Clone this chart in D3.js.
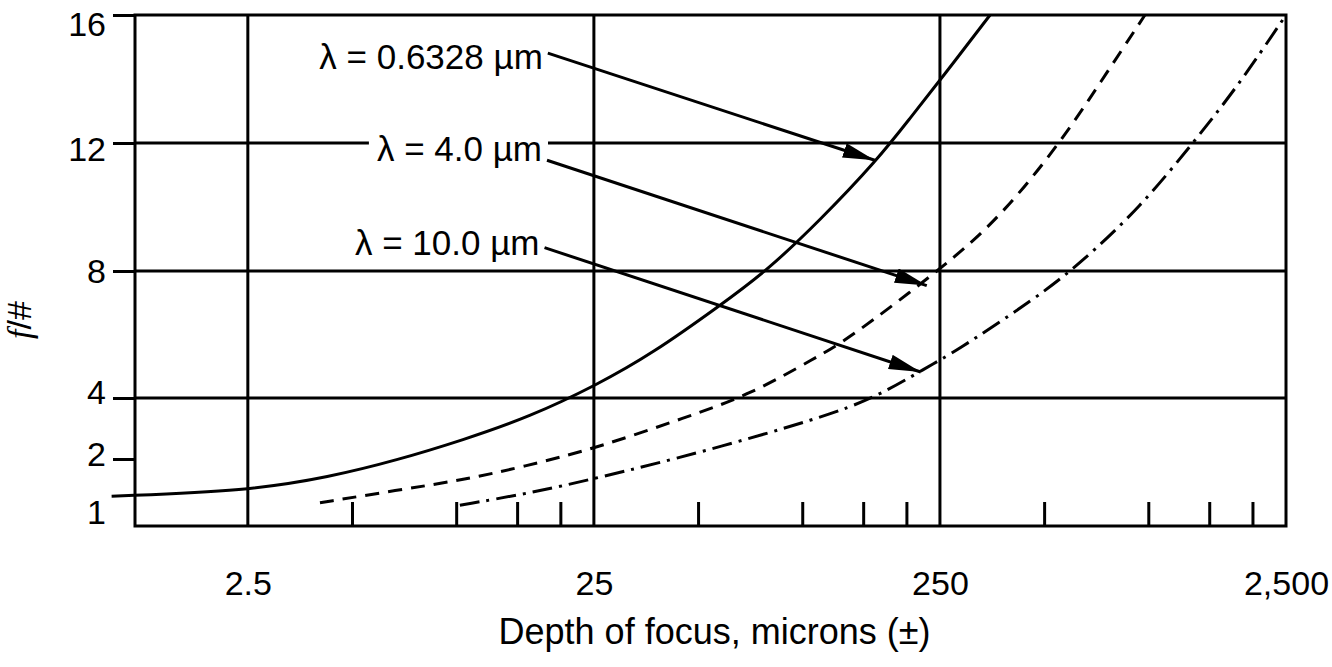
<!DOCTYPE html>
<html>
<head>
<meta charset="utf-8">
<script src="https://cdn.jsdelivr.net/npm/d3@7"></script>
<style>
  body { margin: 0; background: #fff; }
  text { font-family: "Liberation Sans", Arial, sans-serif; fill: #000; }
</style>
</head>
<body>
<div id="my_dataviz"></div>
<script>
// values (x = depth of focus in microns, y = f/#)
const solidX = [1.01, 2.5, 4.31, 6.74, 10.45, 16.3, 25.5, 37.0, 57.8, 79.1, 112.5, 164.5, 204.8, 253, 349];
const solidY = [1.38, 1.47, 1.70, 1.98, 2.62, 3.38, 4.41, 5.41, 6.91, 8.01, 9.58, 11.46, 12.77, 14.03, 16];

const dashedX = [4.04, 6.74, 10.45, 15.6, 25.5, 46.4, 70.6, 110, 134.6, 255, 373, 556, 725, 978];
const dashedY = [1.27, 1.48, 1.65, 1.87, 2.36, 3.38, 4.10, 5.29, 5.82, 8.11, 9.67, 12.0, 13.87, 16];

const dashDotX = [10.25, 16.3, 25.5, 51.6, 112.5, 164.5, 229, 272.6, 477, 635, 946, 1346, 1805, 2500];
const dashDotY = [1.23, 1.43, 1.68, 2.23, 3.34, 4.03, 4.97, 5.41, 7.17, 8.23, 9.98, 12.0, 13.74, 16];

const xMajor = [2.5, 25, 250, 2500];
const xMajorLabels = ["2.5", "25", "250", "2,500"];
const xMinor = [5, 10, 15, 20, 50, 100, 150, 200, 500, 1000, 1500, 2000];
const yTicks = [1, 2, 4, 8, 12, 16];
const yGrid = [4, 8, 12];

const labels = ["\u03bb = 0.6328 \u00b5m", "\u03bb = 4.0 \u00b5m", "\u03bb = 10.0 \u00b5m"];
const labelY = [14.68, 11.83, 8.89];
const arrowFromX = [18.4, 18.3, 18.0];
const arrowFromY = [14.81, 11.46, 8.73];
const arrowToX = [162, 229, 220];
const arrowToY = [11.46, 7.54, 4.82];

// set the dimensions and margins of the graph
var margin = {top: 15, right: 46, bottom: 141, left: 135},
  width = 1332 - margin.left - margin.right,
  height = 667 - margin.top - margin.bottom;

var svg = d3.select("#my_dataviz")
.append("svg")
  .attr("width", width + margin.left + margin.right)
  .attr("height", height + margin.top + margin.bottom)
.append("g")
  .attr("transform", "translate(" + margin.left + "," + margin.top + ")");

var x = d3.scaleLog()
  .domain([1.18, 2500])
  .range([0, width]);

// the f/# axis is stretched unevenly in the original, so piecewise linear
var y = d3.scaleLinear()
  .domain([1, 2, 4, 8, 12, 16])
  .range([height - 7, height - 67, height - 128, 256, 128, 0]);

// grid
svg.append("g")
  .selectAll("line")
  .data(xMajor.slice(0, 3))
  .enter()
  .append("line")
    .attr("x1", d => x(d)).attr("x2", d => x(d))
    .attr("y1", 0).attr("y2", height)
    .attr("stroke", "#000").attr("stroke-width", 3);

svg.append("g")
  .selectAll("line")
  .data(yGrid)
  .enter()
  .append("line")
    .attr("x1", 0).attr("x2", width)
    .attr("y1", d => y(d)).attr("y2", d => y(d))
    .attr("stroke", "#000").attr("stroke-width", 3);

// minor ticks pointing up from the bottom
svg.append("g")
  .attr("transform", "translate(0," + height + ")")
  .call(d3.axisBottom(x).tickValues(xMinor).tickSize(-24).tickFormat(""))
  .call(g => g.select(".domain").remove())
  .selectAll("line").attr("stroke-width", 3);

// x labels
svg.append("g")
  .attr("transform", "translate(0," + height + ")")
  .call(d3.axisBottom(x).tickValues(xMajor).tickSize(0).tickPadding(45)
    .tickFormat((d, i) => xMajorLabels[i]))
  .call(g => g.select(".domain").remove())
  .selectAll("text")
    .style("font-size", "34px")
    .attr("font-family", null);

// y axis (label nudges follow the original lettering)
var yLabelShift = {1: -6, 2: -4, 4: -5, 8: 1, 12: 7, 16: 10};
var yAxis = svg.append("g")
  .call(d3.axisLeft(y).tickValues(yTicks).tickSize(22).tickPadding(7))
  .call(g => g.select(".domain").remove());
yAxis.selectAll("line").attr("stroke-width", 3);
yAxis.selectAll(".tick").filter(d => d === 1).select("line").remove();
yAxis.selectAll("text")
  .style("font-size", "34px")
  .attr("font-family", null)
  .attr("y", d => yLabelShift[d]);

// frame
svg.append("rect")
  .attr("width", width).attr("height", height)
  .attr("fill", "none").attr("stroke", "#000").attr("stroke-width", 3);

// curves
var line = d3.line()
  .x(d => x(d[0]))
  .y(d => y(d[1]))
  .curve(d3.curveBasis);

var series = [
  {pts: d3.zip(solidX, solidY), dash: null},
  {pts: d3.zip(dashedX, dashedY), dash: "14,9"},
  {pts: d3.zip(dashDotX, dashDotY), dash: "20,7,3,7"}
];

svg.append("g")
  .selectAll("path")
  .data(series)
  .enter()
  .append("path")
    .attr("d", d => line(d.pts))
    .attr("fill", "none")
    .attr("stroke", "#000")
    .attr("stroke-width", 3)
    .attr("stroke-dasharray", d => d.dash);

// arrow heads
svg.append("defs").append("marker")
  .attr("id", "head")
  .attr("markerUnits", "userSpaceOnUse")
  .attr("viewBox", "0 0 32 15")
  .attr("refX", 32).attr("refY", 7.5)
  .attr("markerWidth", 32).attr("markerHeight", 15)
  .attr("orient", "auto")
.append("path")
  .attr("d", "M0,0 L32,7.5 L0,15 Z")
  .attr("fill", "#000");

// labels with arrows
var notes = labels.map((t, i) => ({
  text: t, ly: labelY[i],
  x1: arrowFromX[i], y1: arrowFromY[i], x2: arrowToX[i], y2: arrowToY[i]
}));

var note = svg.append("g")
  .selectAll("g")
  .data(notes)
  .enter()
  .append("g");

note.append("rect").attr("class", "bg").attr("fill", "#fff");

note.append("text")
  .attr("x", d => x(d.x1) - 5)
  .attr("y", d => y(d.ly))
  .attr("dy", "0.35em")
  .attr("text-anchor", "end")
  .style("font-size", "35px")
  .text(d => d.text);

note.each(function() {
  var g = d3.select(this);
  var b = g.select("text").node().getBBox();
  g.select("rect")
    .attr("x", b.x - 8).attr("y", b.y + 4)
    .attr("width", b.width + 14).attr("height", b.height - 8);
});

note.append("line")
  .attr("x1", d => x(d.x1)).attr("y1", d => y(d.y1))
  .attr("x2", d => x(d.x2)).attr("y2", d => y(d.y2))
  .attr("stroke", "#000")
  .attr("stroke-width", 3)
  .attr("marker-end", "url(#head)");

// axis titles
svg.append("text")
  .attr("x", width / 2 + 4)
  .attr("y", height + 118)
  .attr("text-anchor", "middle")
  .style("font-size", "36px")
  .text("Depth of focus, microns (\u00b1)");

var yt = svg.append("text")
  .attr("transform", "translate(" + (-104) + "," + 305 + ") rotate(-90)")
  .attr("text-anchor", "middle")
  .style("font-size", "34px");
yt.append("tspan")
  .style("font-family", "'Liberation Serif', serif")
  .style("font-style", "italic")
  .text("f");
yt.append("tspan").text("/#");
</script>
</body>
</html>
